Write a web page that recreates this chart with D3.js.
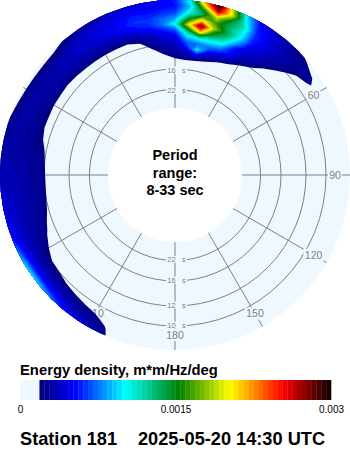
<!DOCTYPE html>
<html>
<head>
<meta charset="utf-8">
<script src="https://cdn.jsdelivr.net/npm/d3@7"></script>
<style>
    html, body { margin: 0; padding: 0; background: #fff; }
    svg { display: block; font-family: "Liberation Sans", Arial, sans-serif; }
</style>
</head>
<body>
<svg id="chart" width="350" height="450"></svg>
<script>
// data
const periods = [22, 16, 12, 10];
const spokes = [0, 30, 60, 90, 120, 150, 180, 210, 240, 270, 300, 330];
const colourTicks = [0, 0.0015, 0.003];
const freqs = [0.07, 0.075, 0.08, 0.085, 0.09, 0.095, 0.1, 0.105, 0.11, 0.115, 0.12];
// one row per direction, 200 to 420 deg by 5, one value per freq, unit 1e-5
const energy = [
    [0, 0, 0, 0, 0, 0, 0, 0, 0, 0, 0],
    [0, 0, 0, 0, 0, 0, 0, 0, 14, 22, 28],
    [0, 0, 0, 0, 0, 0, 2, 14, 24, 30, 36],
    [0, 0, 0, 0, 0, 0, 6, 18, 26, 35, 46],
    [0, 0, 0, 0, 0, 0, 10, 22, 30, 42, 58],
    [0, 0, 0, 0, 0, 2, 14, 25, 36, 50, 74],
    [0, 0, 0, 0, 0, 4, 19, 27, 38, 56, 90],
    [0, 0, 0, 0, 0, 8, 21, 28, 39, 58, 98],
    [0, 0, 0, 0, 2, 18, 24, 30, 40, 56, 90],
    [0, 0, 0, 4, 16, 24, 28, 32, 39, 50, 72],
    [0, 0, 0, 12, 24, 27, 30, 33, 38, 45, 54],
    [0, 0, 6, 20, 25, 28, 31, 34, 38, 42, 44],
    [0, 0, 12, 23, 26, 29, 32, 35, 37, 39, 40],
    [0, 2, 14, 24, 26, 29, 31, 33, 35, 37, 38],
    [0, 2, 14, 24, 26, 28, 30, 32, 34, 35, 35],
    [0, 0, 12, 23, 25, 27, 29, 31, 33, 33, 31],
    [0, 0, 8, 20, 24, 26, 28, 30, 31, 31, 28],
    [0, 0, 2, 14, 22, 25, 27, 29, 30, 28, 24],
    [0, 0, 0, 8, 19, 25, 28, 30, 30, 27, 18],
    [0, 0, 0, 6, 19, 25, 28, 30, 29, 24, 16],
    [0, 0, 0, 4, 18, 25, 29, 30, 28, 23, 14],
    [0, 0, 0, 4, 18, 26, 30, 32, 29, 22, 14],
    [0, 0, 0, 3, 17, 26, 31, 33, 30, 22, 14],
    [0, 0, 0, 4, 18, 27, 33, 36, 33, 23, 15],
    [0, 0, 0, 5, 19, 28, 34, 38, 36, 28, 19],
    [0, 0, 0, 6, 19, 29, 36, 40, 40, 34, 25],
    [0, 0, 0, 6, 19, 30, 38, 44, 44, 38, 30],
    [0, 0, 0, 7, 19, 32, 41, 48, 48, 42, 34],
    [0, 0, 0, 8, 19, 34, 48, 54, 52, 46, 38],
    [0, 0, 2, 14, 24, 38, 54, 62, 58, 50, 42],
    [0, 4, 18, 28, 34, 46, 60, 62, 56, 50, 46],
    [8, 19, 28, 35, 42, 56, 75, 72, 60, 52, 50],
    [16, 25, 32, 38, 48, 68, 105, 82, 64, 56, 58],
    [18, 30, 50, 70, 95, 135, 195, 145, 105, 88, 105],
    [15, 45, 100, 75, 110, 210, 285, 205, 135, 170, 225],
    [12, 30, 55, 80, 108, 145, 185, 165, 195, 268, 300],
    [3, 22, 45, 70, 100, 125, 140, 135, 145, 190, 180],
    [0, 14, 35, 50, 55, 85, 105, 110, 115, 100, 90],
    [0, 0, 20, 34, 40, 46, 58, 62, 60, 55, 48],
    [0, 0, 5, 24, 32, 38, 42, 46, 46, 44, 38],
    [0, 0, 0, 6, 19, 28, 32, 36, 36, 34, 30],
    [0, 0, 0, 0, 4, 16, 25, 29, 30, 28, 24],
    [0, 0, 0, 0, 0, 0, 12, 21, 25, 25, 15],
    [0, 0, 0, 0, 0, 0, 0, 8, 28, 16, 4],
    [0, 0, 0, 0, 0, 0, 0, 0, 0, 0, 0]
];

const svg = d3.select('#chart');
const cx = 175, cy = 175;
const lightBlue = '#f0f8ff';
const gridColour = '#808080';

// scales
const radius = d3.scaleLinear().domain([0.03, 0.12]).range([67, 175]);
const direction = d3.scaleLinear().domain([200, 420]).range([0, 44]);
const colour = d3.scaleLinear()
    .domain([18.75, 51, 99, 151, 200, 251, 300])
    .range(['#000080', '#0000ff', '#00ffff', '#008000', '#ffff00', '#ff0000', '#000000']);
const levels = d3.range(4, 64).map(i => i * 300 / 64);

function polar(theta, r) {
    const a = (theta - 90) * Math.PI / 180;
    return [cx + r * Math.cos(a), cy + r * Math.sin(a)];
}

// disc
svg.append('circle').attr('cx', cx).attr('cy', cy).attr('r', 175).attr('fill', lightBlue);
svg.append('circle').attr('cx', cx).attr('cy', cy).attr('r', radius(0.03)).attr('fill', '#fff');

// grid
const grid = svg.append('g').attr('stroke', gridColour).attr('fill', 'none');
grid.selectAll('circle').data(periods).join('circle')
    .attr('cx', cx).attr('cy', cy)
    .attr('r', d => radius(1 / d));
grid.selectAll('line').data(spokes).join('line')
    .attr('x1', d => polar(d, 67)[0]).attr('y1', d => polar(d, 67)[1])
    .attr('x2', d => polar(d, 175)[0]).attr('y2', d => polar(d, 175)[1]);

// labels sit on a patch of disc colour that cuts the grid
function gridLabel(g, x, y, text, size, w, h) {
    g.append('rect').attr('x', x - w / 2).attr('y', y - h / 2).attr('width', w).attr('height', h)
        .attr('fill', lightBlue);
    g.append('text').attr('x', x).attr('y', y + size * 0.36)
        .attr('text-anchor', 'middle').attr('font-size', size).attr('fill', gridColour)
        .text(text);
}
const labels = svg.append('g');
spokes.forEach(d => {
    const [x, y] = polar(d, 160);
    gridLabel(labels, x, y, d, 10.5, String(d).length * 6 + 2, 12);
});
periods.forEach(p => {
    const r = radius(1 / p) - 1;
    gridLabel(labels, cx + 1.5, cy + r, p + '\u00a0\u00a0\u00a0s', 7.5, 21, 7);
    gridLabel(labels, cx + 1.5, cy - r, p + '\u00a0\u00a0\u00a0s', 7.5, 21, 7);
});

// energy field, contoured on the direction/freq grid and bent into polar
const nx = energy.length, ny = freqs.length;
const flat = [];
for (let j = 0; j < ny; j++) {
    for (let i = 0; i < nx; i++) flat.push(energy[i][j]);
}
const freqOf = d3.scaleLinear().domain([0.5, ny - 0.5]).range([freqs[0], freqs[ny - 1]]);
const dirOf = d3.scaleLinear().domain([0.5, nx - 0.5]).range([direction.invert(0), direction.invert(nx - 1)]);
const toPolar = d3.geoTransform({
    point(x, y) {
        const [px, py] = polar(dirOf(x), radius(freqOf(y)));
        this.stream.point(px, py);
    }
});
const path = d3.geoPath(toPolar);
svg.append('clipPath').attr('id', 'disc')
    .append('circle').attr('cx', cx).attr('cy', cy).attr('r', 175);
svg.append('g').attr('clip-path', 'url(#disc)')
    .selectAll('path')
    .data(d3.contours().size([nx, ny]).thresholds(levels)(flat))
    .join('path')
    .attr('d', path)
    .attr('fill', d => colour(d.value));

// centre text
svg.append('g').attr('text-anchor', 'middle').attr('font-weight', 'bold').attr('font-size', 14.5)
    .selectAll('text').data(['Period', 'range:', '8-33 sec']).join('text')
    .attr('x', cx)
    .attr('y', (d, i) => 160 + i * 17.5)
    .text(d => d);

// colour bar
const bar = d3.scaleLinear().domain([0, 0.003]).range([20, 331]);
svg.append('text').attr('x', 20).attr('y', 375)
    .attr('font-weight', 'bold').attr('font-size', 14.8)
    .text('Energy density, m*m/Hz/deg');
svg.append('rect').attr('x', bar(0)).attr('y', 380).attr('width', bar(levels[0] * 1e-5) - bar(0)).attr('height', 20)
    .attr('fill', lightBlue);
svg.append('g').selectAll('rect').data(levels).join('rect')
    .attr('x', d => bar(d * 1e-5))
    .attr('y', 380)
    .attr('width', 311 / 64 + 0.3)
    .attr('height', 20)
    .attr('fill', d => colour(d));
const barAxis = svg.append('g').attr('transform', 'translate(0,401)')
    .call(d3.axisBottom(bar).tickValues(colourTicks).tickSize(0).tickPadding(5).tickFormat(d => String(d)));
barAxis.select('.domain').remove();
barAxis.selectAll('text').attr('font-size', 10).attr('font-family', null).attr('fill', '#000');

// footer
svg.append('text').attr('x', 20).attr('y', 445).attr('font-weight', 'bold').attr('font-size', 18.2)
    .text('Station 181');
svg.append('text').attr('x', 138).attr('y', 445).attr('font-weight', 'bold').attr('font-size', 18.2)
    .text('2025-05-20 14:30 UTC');
</script>
</body>
</html>
